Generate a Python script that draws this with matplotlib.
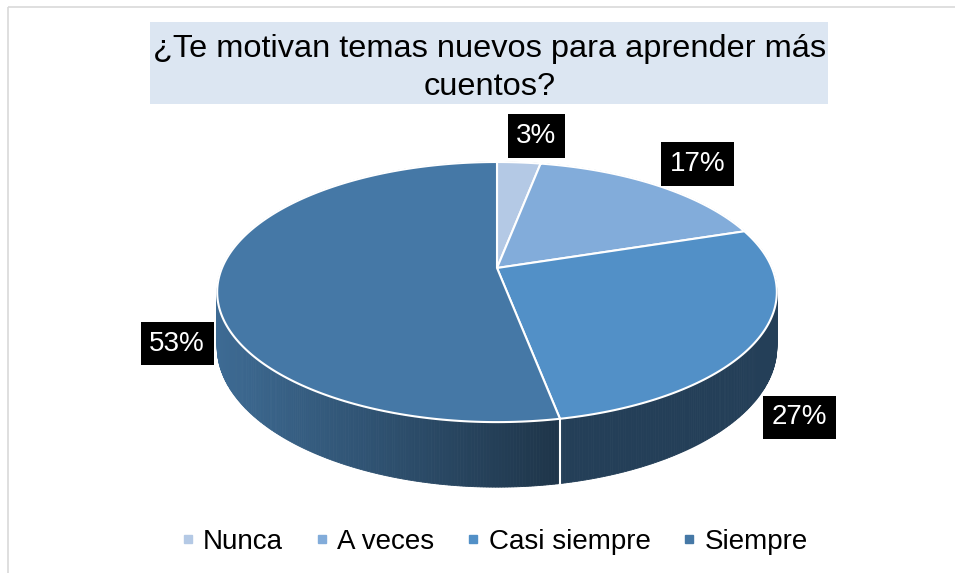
import matplotlib
matplotlib.use('Agg')
import matplotlib.pyplot as plt
from matplotlib.patches import Polygon, Rectangle
from matplotlib.lines import Line2D
import numpy as np

plt.rcParams['font.family'] = ['Liberation Sans', 'DejaVu Sans']

# data
categories = ['Nunca', 'A veces', 'Casi siempre', 'Siempre']
percent = [3, 17, 27, 53]
title = '¿Te motivan temas nuevos para aprender más\ncuentos?'

top_colors = ['#B4C9E5', '#82ACDA', '#5290C7', '#4578A6']

# 3d pie geometry (pixel space)
CX, CY = 497, 268      # apex of the slices
A, B = 275, 125.6      # half width / half depth of the top disc
K = 0.185              # perspective factor
D = 53                 # thickness


def proj(theta, r=1.0, drop=0.0):
    """Project a point of the disc (theta clockwise from the far side)."""
    u = r * np.sin(theta)
    v = r * np.cos(theta)
    d = 1 + K * v
    return CX + A * u / d, CY - B * v / d + drop / d


def shade(hex_color, f):
    rgb = np.array(matplotlib.colors.to_rgb(hex_color))
    return tuple(rgb * f)


def main():
    fig = plt.figure(figsize=(9.55, 5.73), dpi=100)
    ax = fig.add_axes([0, 0, 1, 1])
    ax.set_xlim(0, 955)
    ax.set_ylim(573, 0)
    ax.axis('off')

    # chart frame
    ax.add_patch(Rectangle((8, 7), 960, 580, fill=False,
                           edgecolor='#D9D9D9', lw=1.2))

    # title box
    ax.add_patch(Rectangle((150, 22), 678, 82, facecolor='#DCE6F2',
                           edgecolor='none'))
    ax.text(490, 68, title, ha='center', va='center', fontsize=23.4,
            linespacing=1.36, color='black')

    total = float(sum(percent))
    bounds = np.concatenate([[0], np.cumsum(percent)]) / total * 2 * np.pi

    # side of the cylinder, drawn back to front
    quads = []
    for i in range(len(percent)):
        t = np.linspace(bounds[i], bounds[i + 1],
                        max(int(np.degrees(bounds[i + 1] - bounds[i]) * 2), 2))
        for ta, tb in zip(t[:-1], t[1:]):
            pts = [proj(ta), proj(tb), proj(tb, drop=D), proj(ta, drop=D)]
            xm = np.mean([p[0] for p in pts])
            f = 0.89 - 0.45 * np.clip((xm - 216) / (560 - 216), 0, 1)
            quads.append((np.cos((ta + tb) / 2), pts, shade(top_colors[i], f)))
    quads.sort(key=lambda q: -q[0])
    for _, pts, c in quads:
        ax.add_patch(Polygon(pts, closed=True, facecolor=c, edgecolor=c,
                             lw=0.6))

    # slice boundaries visible on the side
    for b in bounds[:-1]:
        if np.cos(b) < -K:
            x0, y0 = proj(b)
            x1, y1 = proj(b, drop=D)
            ax.plot([x0, x1], [y0, y1], color='white', lw=1.5)

    # top face
    for i in range(len(percent)):
        t = np.linspace(bounds[i], bounds[i + 1], 200)
        pts = [(CX, CY)] + [proj(tt) for tt in t]
        ax.add_patch(Polygon(pts, closed=True, facecolor=top_colors[i],
                             edgecolor='white', lw=1.5, joinstyle='round'))

    # data labels, box placed just outside the rim at the mid angle
    fig.canvas.draw()
    for i, p in enumerate(percent):
        mid = (bounds[i] + bounds[i + 1]) / 2
        drop = D if np.cos(mid) < 0 else 0
        px, py = proj(mid, drop=drop)
        txt = ax.text(px, py, '%d%%' % p, ha='center', va='center',
                      fontsize=20, color='white',
                      bbox=dict(boxstyle='square,pad=0.31',
                                facecolor='black', edgecolor='none'))
        fig.canvas.draw()
        bb = txt.get_bbox_patch().get_window_extent()
        hw, hh = bb.width / 2, bb.height / 2
        dx, dy = px - CX, py - CY
        n = np.hypot(dx, dy)
        dx, dy = dx / n, dy / n
        dist = min(hw / max(abs(dx), 1e-6), hh / max(abs(dy), 1e-6)) + 5
        # small slices near the top get nudged sideways, like Excel does
        shift = 12 if abs(dx) < 0.3 else 0
        txt.set_position((px + dx * dist + shift, py + dy * dist))

    # legend
    handles = [Line2D([], [], marker='s', ls='', color=c, markersize=5.5)
               for c in top_colors]
    fig.legend(handles, categories, ncol=4, loc='center',
               bbox_to_anchor=(495 / 955, 1 - 542 / 573), frameon=False,
               fontsize=20, handlelength=0.4, handletextpad=0.35,
               columnspacing=1.2)

    fig.savefig('out.png', dpi=100)


if __name__ == '__main__':
    main()
